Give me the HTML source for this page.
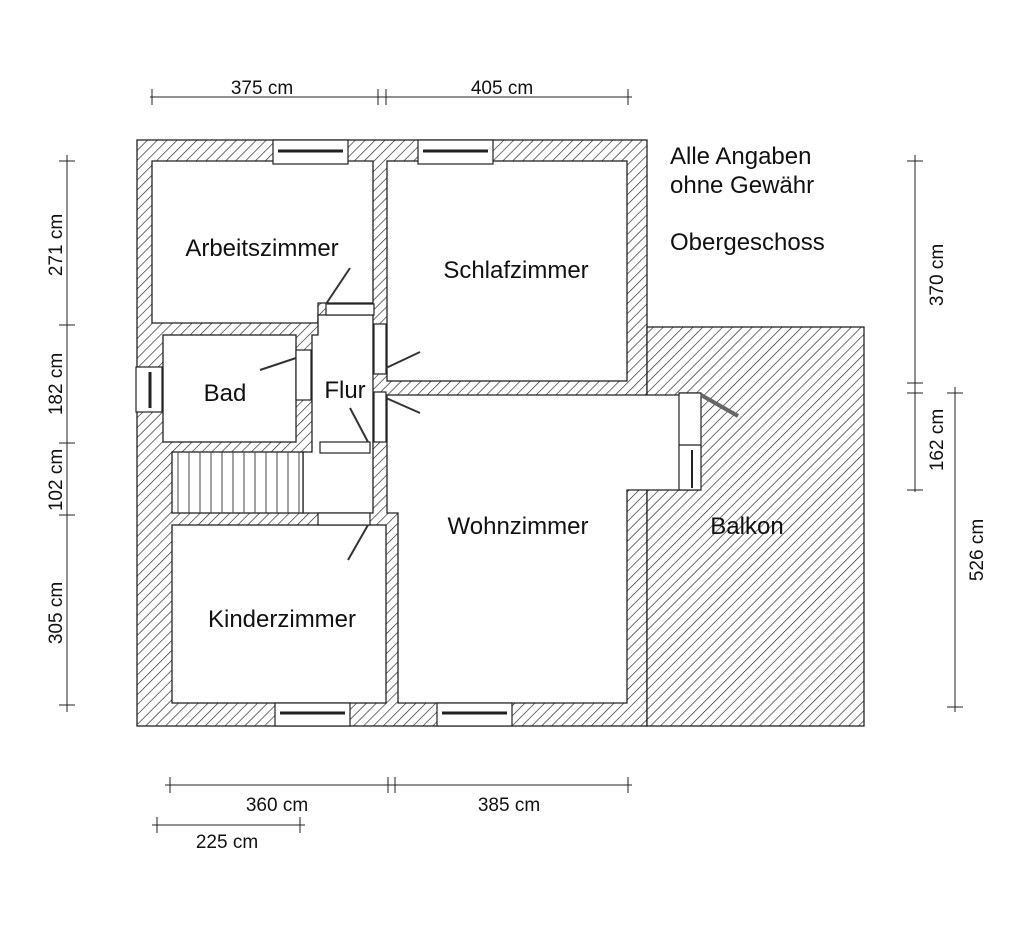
<!DOCTYPE html>
<html><head><meta charset="utf-8"><style>
html,body{margin:0;padding:0;background:#fff;}
svg{display:block;}
text{font-family:"Liberation Sans",sans-serif;fill:#111;}
</style></head><body>
<svg width="1024" height="938" viewBox="0 0 1024 938" xmlns="http://www.w3.org/2000/svg">
<defs>
<pattern id="h" width="7" height="7" patternUnits="userSpaceOnUse" patternTransform="rotate(45)">
<rect width="7" height="7" fill="#fff"/><line x1="0" y1="0" x2="0" y2="7" stroke="#222" stroke-width="1.3"/>
</pattern>
</defs>
<g stroke="#222" stroke-width="1.3">
<rect x="137" y="140" width="510" height="586" fill="url(#h)"/>
<rect x="647" y="327" width="217" height="399" fill="url(#h)"/>
<g fill="#fff">
<polygon points="152,161 373,161 373,303 318,303 318,323 152,323"/>
<rect x="387" y="161" width="240" height="220"/>
<rect x="163" y="335" width="133" height="107"/>
<polygon points="318,315 373,315 373,513 303,513 303,452 312,452 312,335 318,335"/>
<rect x="172" y="452" width="131" height="61"/>
<rect x="172" y="525" width="214" height="178"/>
<polygon points="387,395 680,395 680,490 627,490 627,703 398,703 398,513 387,513"/>
<rect x="680" y="393" width="20" height="97"/>
</g>
</g>
<g stroke="#444" stroke-width="1">
<line x1="178" y1="452" x2="178" y2="513"/><line x1="189" y1="452" x2="189" y2="513"/><line x1="200" y1="452" x2="200" y2="513"/><line x1="211" y1="452" x2="211" y2="513"/><line x1="222" y1="452" x2="222" y2="513"/><line x1="233" y1="452" x2="233" y2="513"/><line x1="244" y1="452" x2="244" y2="513"/><line x1="255" y1="452" x2="255" y2="513"/><line x1="266" y1="452" x2="266" y2="513"/><line x1="277" y1="452" x2="277" y2="513"/><line x1="288" y1="452" x2="288" y2="513"/><line x1="299" y1="452" x2="299" y2="513"/>
</g>
<g stroke="#222" stroke-width="1.2" fill="#fff">
<rect x="273" y="140" width="75" height="24"/><line x1="278" y1="151" x2="343" y2="151" stroke-width="3"/>
<rect x="418" y="140" width="75" height="24"/><line x1="423" y1="151" x2="488" y2="151" stroke-width="3"/>
<rect x="275" y="703" width="75" height="23"/><line x1="280" y1="713" x2="345" y2="713" stroke-width="3"/>
<rect x="437" y="703" width="75" height="23"/><line x1="442" y1="713" x2="507" y2="713" stroke-width="3"/>
<rect x="136" y="367" width="26" height="45"/><line x1="150" y1="372" x2="150" y2="408" stroke-width="3"/>
<rect x="679" y="393" width="22" height="97"/><line x1="679" y1="445" x2="701" y2="445"/><line x1="692" y1="450" x2="692" y2="488" stroke-width="2"/>
<rect x="326" y="304" width="48" height="11"/>
<rect x="296" y="350" width="15" height="50"/>
<rect x="374" y="324" width="12" height="50"/>
<rect x="374" y="392" width="12" height="50"/>
<rect x="320" y="442" width="50" height="11"/>
<rect x="318" y="513" width="52" height="12"/>
</g>
<g stroke="#333" stroke-width="2" fill="none">
<line x1="326" y1="304" x2="350" y2="268"/>
<line x1="296" y1="358" x2="260" y2="370"/>
<line x1="386" y1="368" x2="420" y2="352"/>
<line x1="386" y1="398" x2="420" y2="413"/>
<line x1="368" y1="442" x2="350" y2="408"/>
<line x1="368" y1="525" x2="348" y2="560"/>
<line x1="701" y1="395" x2="738" y2="416" stroke-width="4" stroke="#666"/>
</g>
<g stroke="#222" stroke-width="1" fill="none">
<line x1="150" y1="97" x2="632" y2="97"/>
<line x1="152" y1="89" x2="152" y2="105"/><line x1="378" y1="89" x2="378" y2="105"/><line x1="386" y1="89" x2="386" y2="105"/><line x1="628" y1="89" x2="628" y2="105"/>
<line x1="67" y1="155" x2="67" y2="712"/>
<line x1="59" y1="161" x2="75" y2="161"/><line x1="59" y1="325" x2="75" y2="325"/><line x1="59" y1="443" x2="75" y2="443"/><line x1="59" y1="515" x2="75" y2="515"/><line x1="59" y1="705" x2="75" y2="705"/>
<line x1="915" y1="155" x2="915" y2="492"/>
<line x1="907" y1="161" x2="923" y2="161"/><line x1="907" y1="383" x2="923" y2="383"/><line x1="907" y1="393" x2="923" y2="393"/><line x1="907" y1="490" x2="923" y2="490"/>
<line x1="955" y1="387" x2="955" y2="712"/>
<line x1="947" y1="393" x2="963" y2="393"/><line x1="947" y1="707" x2="963" y2="707"/>
<line x1="165" y1="785" x2="632" y2="785"/>
<line x1="170" y1="777" x2="170" y2="793"/><line x1="388" y1="777" x2="388" y2="793"/><line x1="395" y1="777" x2="395" y2="793"/><line x1="628" y1="777" x2="628" y2="793"/>
<line x1="152" y1="825" x2="305" y2="825"/>
<line x1="157" y1="817" x2="157" y2="833"/><line x1="300" y1="817" x2="300" y2="833"/>
</g>
<g font-size="19">
<text x="262" y="94" text-anchor="middle">375 cm</text>
<text x="502" y="94" text-anchor="middle">405 cm</text>
<text x="277" y="811" text-anchor="middle">360 cm</text>
<text x="509" y="811" text-anchor="middle">385 cm</text>
<text x="227" y="848" text-anchor="middle">225 cm</text>
<text transform="translate(62,245) rotate(-90)" text-anchor="middle">271 cm</text>
<text transform="translate(62,384) rotate(-90)" text-anchor="middle">182 cm</text>
<text transform="translate(62,480) rotate(-90)" text-anchor="middle">102 cm</text>
<text transform="translate(62,613) rotate(-90)" text-anchor="middle">305 cm</text>
<text transform="translate(943,275) rotate(-90)" text-anchor="middle">370 cm</text>
<text transform="translate(943,440) rotate(-90)" text-anchor="middle">162 cm</text>
<text transform="translate(983,550) rotate(-90)" text-anchor="middle">526 cm</text>
</g>
<g font-size="24">
<text x="670" y="164">Alle Angaben</text>
<text x="670" y="193">ohne Gewähr</text>
<text x="670" y="250">Obergeschoss</text>
<text x="262" y="256" text-anchor="middle">Arbeitszimmer</text>
<text x="516" y="278" text-anchor="middle">Schlafzimmer</text>
<text x="225" y="401" text-anchor="middle">Bad</text>
<text x="345" y="398" text-anchor="middle">Flur</text>
<text x="518" y="534" text-anchor="middle">Wohnzimmer</text>
<text x="747" y="534" text-anchor="middle">Balkon</text>
<text x="282" y="627" text-anchor="middle">Kinderzimmer</text>
</g>
</svg>
</body></html>
